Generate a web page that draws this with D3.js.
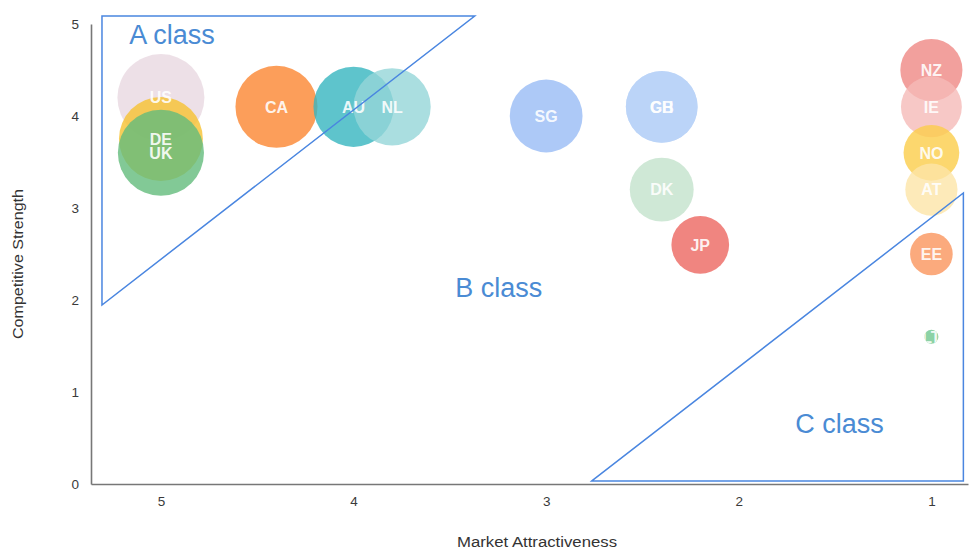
<!DOCTYPE html>
<html>
<head>
<meta charset="utf-8">
<script src="https://cdn.jsdelivr.net/npm/d3@7"></script>
<style>
  html, body { margin: 0; padding: 0; background: #fff; }
  svg { display: block; font-family: "Liberation Sans", Arial, sans-serif; }
</style>
</head>
<body>
<svg id="chart" width="973" height="549"></svg>
<script>
// Country codes, in drawing order
const countries = ["US", "DE", "UK", "CA", "AU", "NL", "SG", "GB", "CH", "DK", "JP", "NZ", "IE", "NO", "AT", "EE", "LT"];
// Market attractiveness (x, reversed axis)
const attractiveness = [5, 5, 5, 4.4, 4, 3.8, 3, 2.4, 2.4, 2.4, 2.2, 1, 1, 1, 1, 1, 1];
// Competitive strength (y)
const strength = [4.2, 3.75, 3.6, 4.1, 4.1, 4.1, 4.0, 4.1, 4.1, 3.2, 2.6, 4.5, 4.1, 3.6, 3.2, 2.5, 1.6];
// Bubble size
const sizes = [100, 93, 98, 89, 85, 79, 70, 68, 68, 54, 44, 51, 49, 41, 36, 24, 2.6];
// Bubble colours
const colors = ["#e9d8e1", "#f6c231", "#63bb7c", "#fb8631", "#36b5bf", "#95d6d8", "#98bbf5",
                "#b8d2f8", "#b8d2f8", "#c3e2cc", "#ec6760", "#ef8885", "#f5bab8", "#fbcd4a",
                "#fce5a7", "#fa955c", "#6fc78e"];

const xTicks = [5, 4, 3, 2, 1];
const yTicks = [0, 1, 2, 3, 4, 5];

// Class regions, in chart units
const classA = [[5.306, 5.087], [3.371, 5.087], [5.306, 1.946]];
const classC = [[2.763, 0.033], [0.834, 3.163], [0.834, 0.033]];
const classLabels = ["A class", "B class", "C class"];
const classLabelX = [4.943, 3.246, 1.477];
const classLabelY = [4.78, 2.03, 0.554];

const svg = d3.select("#chart");

const x = d3.scaleLinear().domain([5.363, 0.81]).range([91, 968]);
const y = d3.scaleLinear().domain([0, 5]).range([484, 24]);
const r = d3.scaleSqrt().domain([0, 100]).range([0, 43.5]);

const data = countries.map((c, i) => ({
  code: c, x: attractiveness[i], y: strength[i], size: sizes[i], color: colors[i]
}));

// Axes
const xAxis = svg.append("g")
  .attr("transform", `translate(0,${y(0)})`)
  .call(d3.axisBottom(x).tickValues(xTicks).tickSize(0).tickPadding(12).tickFormat(d3.format("d")));
const yAxis = svg.append("g")
  .attr("transform", `translate(${x.range()[0]},0)`)
  .call(d3.axisLeft(y).tickValues(yTicks).tickSize(0).tickPadding(12).tickFormat(d3.format("d")));
[xAxis, yAxis].forEach(g => {
  g.select(".domain").attr("stroke", "#777").attr("stroke-width", 1.6);
  g.selectAll("text").attr("fill", "#3a3a3a").attr("font-size", 13.5)
    .attr("font-family", "'Liberation Sans', Arial, sans-serif");
});

svg.append("text")
  .attr("x", 537).attr("y", 547)
  .attr("text-anchor", "middle")
  .attr("font-size", 14).attr("fill", "#333")
  .attr("textLength", 160).attr("lengthAdjust", "spacingAndGlyphs")
  .text("Market Attractiveness");
svg.append("text")
  .attr("transform", "translate(23,264) rotate(-90)")
  .attr("text-anchor", "middle")
  .attr("font-size", 14).attr("fill", "#333")
  .attr("textLength", 150).attr("lengthAdjust", "spacingAndGlyphs")
  .text("Competitive Strength");

// Bubbles
const defs = svg.append("defs");
const bubbles = svg.append("g");
bubbles.selectAll("circle").data(data).join("circle")
  .attr("cx", d => x(d.x))
  .attr("cy", d => y(d.y))
  .attr("r", d => r(d.size))
  .attr("fill", d => d.color)
  .attr("fill-opacity", 0.8);

data.forEach((d, i) => {
  defs.append("clipPath").attr("id", "clip" + i)
    .append("circle")
    .attr("cx", x(d.x)).attr("cy", y(d.y)).attr("r", r(d.size));
});

svg.append("g").selectAll("text").data(data).join("text")
  .attr("x", d => x(d.x))
  .attr("y", d => y(d.y))
  .attr("dy", "0.36em")
  .attr("text-anchor", "middle")
  .attr("font-size", 16)
  .attr("font-weight", "bold")
  .attr("fill", "#fff")
  .attr("fill-opacity", 0.9)
  .attr("clip-path", (d, i) => `url(#clip${i})`)
  .text(d => d.code);

// Class regions
const line = d3.line().x(d => x(d[0])).y(d => y(d[1]));
[classA, classC].forEach(tri => {
  svg.append("path")
    .attr("d", line(tri) + "Z")
    .attr("fill", "none")
    .attr("stroke", "#4a86e0")
    .attr("stroke-width", 1.5);
});

svg.append("g").selectAll("text").data(classLabels).join("text")
  .attr("x", (d, i) => x(classLabelX[i]))
  .attr("y", (d, i) => y(classLabelY[i]))
  .attr("text-anchor", "middle")
  .attr("font-size", 27)
  .attr("fill", "#4a8bd4")
  .text(d => d);
</script>
</body>
</html>
